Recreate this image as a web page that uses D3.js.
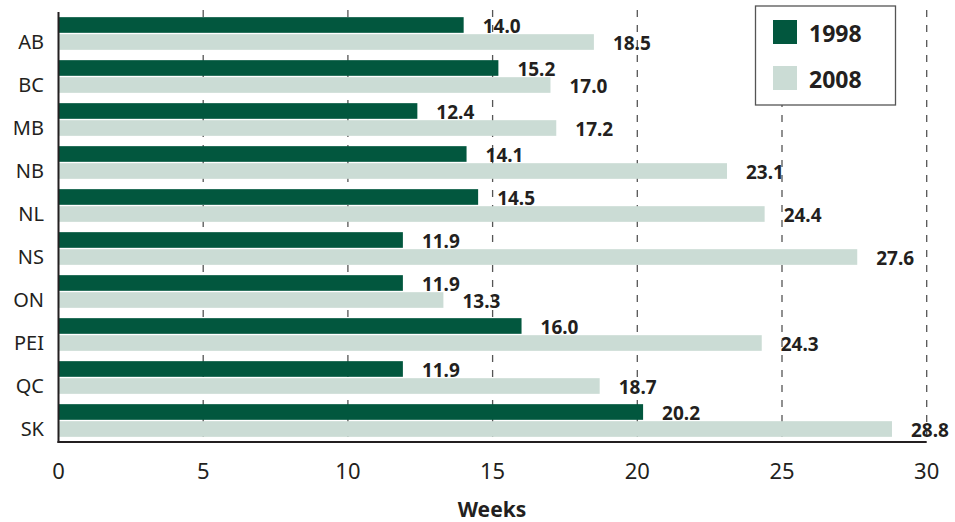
<!DOCTYPE html>
<html>
<head>
<meta charset="utf-8">
<script src="https://cdn.jsdelivr.net/npm/d3@7"></script>
<style>
  body { margin: 0; background: #fff; }
  svg { font-family: "Noto Sans", sans-serif; }
  .tick-label { font-size: 22px; fill: #231f20; }
  .cat-label { font-size: 20px; fill: #231f20; }
  .val-label { font-size: 19px; font-weight: bold; fill: #231f20; }
</style>
</head>
<body>
<div class="container"></div>
<script>
const WIDTH = 955;
const HEIGHT = 522;

var provinces = ['AB', 'BC', 'MB', 'NB', 'NL', 'NS', 'ON', 'PEI', 'QC', 'SK'];
var series = ['1998', '2008'];
var weeks1998 = [14.0, 15.2, 12.4, 14.1, 14.5, 11.9, 11.9, 16.0, 11.9, 20.2];
var weeks2008 = [18.5, 17.0, 17.2, 23.1, 24.4, 27.6, 13.3, 24.3, 18.7, 28.8];
var xTicks = [0, 5, 10, 15, 20, 25, 30];
var colors = ['#02573e', '#cbdcd5'];

var fillLayout = function() {
    var svg = d3.select('.container').append('svg')
        .attr('width', WIDTH)
        .attr('height', HEIGHT);

    let xScale = d3.scaleLinear()
        .domain([0, 30])
        .range([58.5, 926.7]);

    let yScale = d3.scaleBand()
        .domain(provinces)
        .range([12, 442])
        .paddingInner(0.24)
        .paddingOuter(0.12);

    let subScale = d3.scaleBand()
        .domain(series)
        .range([0, yScale.bandwidth()])
        .paddingInner(0.08);

    var bottom = yScale.range()[1];

    // dashed grid lines
    svg.append('g').selectAll('line')
        .data(xTicks.filter(d => d > 0))
        .join('line')
        .attr('x1', d => xScale(d))
        .attr('x2', d => xScale(d))
        .attr('y1', 10)
        .attr('y2', bottom)
        .attr('stroke', '#555')
        .attr('stroke-width', 1.3)
        .attr('stroke-dasharray', '7,8');

    var rows = provinces.map((p, i) => ({ p: p, vals: [weeks1998[i], weeks2008[i]] }));

    var groups = svg.append('g').selectAll('g')
        .data(rows)
        .join('g')
        .attr('transform', d => `translate(0,${yScale(d.p)})`);

    groups.selectAll('rect')
        .data(d => d.vals.map((v, j) => ({ s: series[j], v: v, j: j })))
        .join('rect')
        .attr('x', xScale(0))
        .attr('y', d => subScale(d.s))
        .attr('width', d => xScale(d.v) - xScale(0))
        .attr('height', subScale.bandwidth())
        .attr('fill', d => colors[d.j]);

    groups.selectAll('text.val-label')
        .data(d => d.vals.map((v, j) => ({ s: series[j], v: v })))
        .join('text')
        .classed('val-label', true)
        .attr('x', d => xScale(d.v) + 19)
        .attr('y', d => subScale(d.s) + subScale.bandwidth())
        .text(d => d3.format('.1f')(d.v));

    groups.append('text')
        .classed('cat-label', true)
        .attr('x', 44)
        .attr('y', subScale('2008') + subScale.bandwidth() - 0.5)
        .attr('text-anchor', 'end')
        .text(d => d.p);

    // axes
    svg.append('line')
        .attr('x1', xScale(0)).attr('x2', xScale(0))
        .attr('y1', 12).attr('y2', bottom + 1)
        .attr('stroke', '#231f20').attr('stroke-width', 2);
    svg.append('line')
        .attr('x1', xScale(0) - 1).attr('x2', xScale(30))
        .attr('y1', bottom).attr('y2', bottom)
        .attr('stroke', '#231f20').attr('stroke-width', 2);

    svg.append('g').selectAll('text')
        .data(xTicks)
        .join('text')
        .classed('tick-label', true)
        .attr('x', d => xScale(d))
        .attr('y', bottom + 37)
        .attr('text-anchor', 'middle')
        .text(d => d);

    svg.append('text')
        .attr('x', 492)
        .attr('y', 517)
        .attr('text-anchor', 'middle')
        .attr('font-size', '21px')
        .attr('font-weight', 'bold')
        .attr('fill', '#231f20')
        .text('Weeks');

    // legend
    var legend = svg.append('g').attr('transform', 'translate(755.5,6)');
    legend.append('rect')
        .attr('width', 140).attr('height', 99)
        .attr('fill', '#fff')
        .attr('stroke', '#555').attr('stroke-width', 1.3);
    var items = legend.selectAll('g.item')
        .data(series)
        .join('g')
        .attr('transform', (d, i) => `translate(17.5,${14 + i * 46})`);
    items.append('rect')
        .attr('width', 24).attr('height', 24)
        .attr('fill', (d, i) => colors[i]);
    items.append('text')
        .attr('x', 36)
        .attr('y', 21.5)
        .attr('font-size', '23px')
        .attr('font-weight', 'bold')
        .attr('fill', '#231f20')
        .text(d => d);
};
window.onload = fillLayout;
</script>
</body>
</html>
